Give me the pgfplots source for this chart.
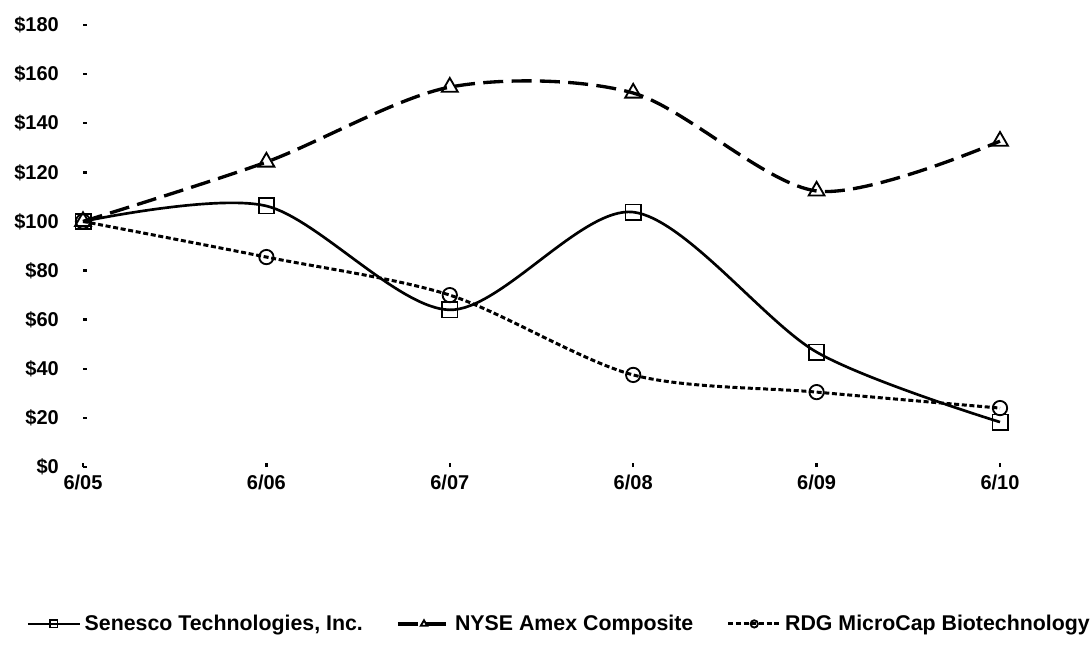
\documentclass[border=0pt]{standalone}
\usepackage{fontspec}
\setmainfont{Liberation Sans}
\usepackage{pgfplots}
\pgfplotsset{compat=1.18}
\begin{document}
\begin{tikzpicture}[x=1pt,y=1pt]
\useasboundingbox (0,0) rectangle (655.2,388.8);
\begin{axis}[
  at={(49.8pt,108.6pt)}, anchor=south west,
  scale only axis, width=550.2pt, height=265.2pt,
  xmin=0, xmax=5, ymin=0, ymax=180,
  clip=false,
  axis line style={draw=none},
  tick pos=left,
  xtick={0,1,2,3,4,5},
  xticklabels={6/05,6/06,6/07,6/08,6/09,6/10},
  ytick={0,20,40,60,80,100,120,140,160,180},
  yticklabels={\$0,\$20,\$40,\$60,\$80,\$100,\$120,\$140,\$160,\$180},
  ticklabel style={font=\bfseries\fontsize{12}{14}\selectfont},
  yticklabel style={xshift=-11pt},
  xticklabel style={yshift=-1pt},
  tick style={black, line width=1.5pt},
  major tick length=2.5pt,
  legend columns=3,
  legend style={at={(0.52,-0.355)}, anchor=center, draw=none, fill=none,
    font=\bfseries\fontsize{12.8}{15}\selectfont,
    /tikz/every even column/.append style={column sep=18pt}},
  legend image code/.code={\draw[mark repeat=2,mark phase=2,mark size=2.2pt] plot coordinates {(0cm,0cm)(0.55cm,0cm)(1.1cm,0cm)};},
]
\addplot[black, line width=1.6pt, smooth, mark=square, mark size=4.6pt,
  mark options={solid, fill=white, line width=1pt}]
  coordinates {(0,100) (1,106.3) (2,64) (3,103.8) (4,46.8) (5,18.3)};
\addlegendentry{Senesco Technologies, Inc.}
\addplot[black, line width=2pt, smooth, dash pattern=on 12pt off 5pt, mark=triangle, mark size=5.5pt,
  mark options={solid, fill=white, line width=1.1pt}]
  coordinates {(0,100) (1,124.2) (2,154.7) (3,152.3) (4,112.4) (5,132.7)};
\addlegendentry{NYSE Amex Composite}
\addplot[black, line width=1.8pt, smooth, dash pattern=on 3pt off 1.6pt, mark=o, mark size=4.3pt,
  mark options={solid, fill=white, line width=1.1pt}]
  coordinates {(0,100) (1,85.5) (2,70) (3,37.5) (4,30.5) (5,24)};
\addlegendentry{RDG MicroCap Biotechnology}
\end{axis}
\end{tikzpicture}
\end{document}
